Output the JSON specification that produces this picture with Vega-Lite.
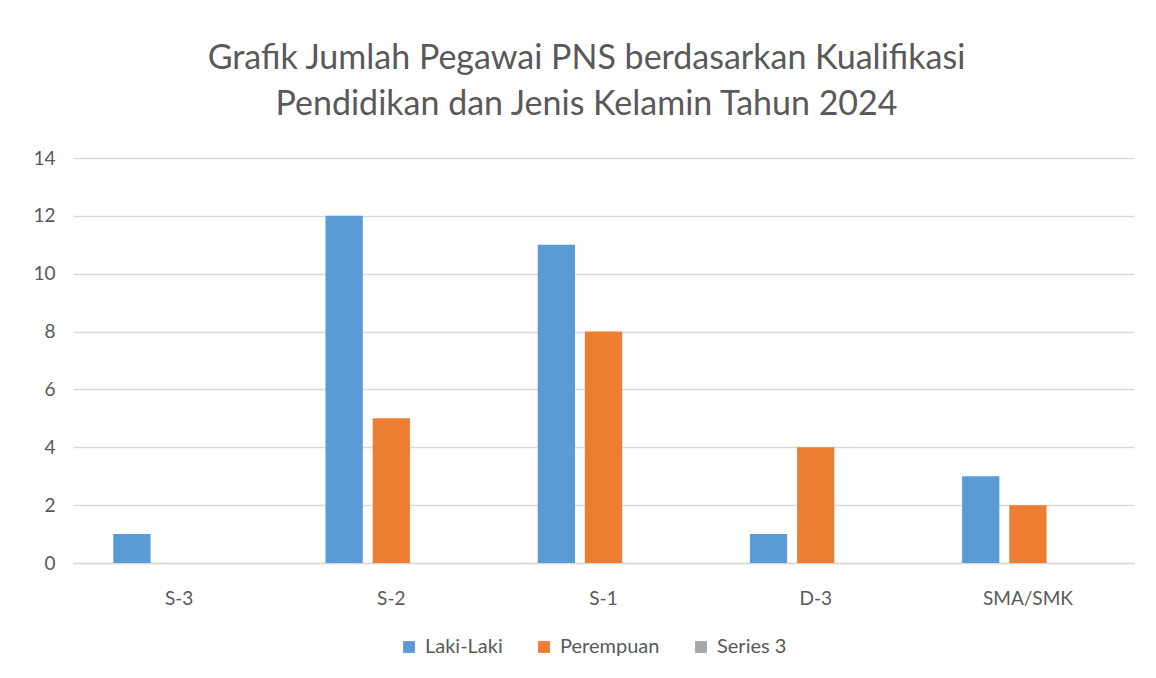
{
  "$schema": "https://vega.github.io/schema/vega-lite/v6.json",
  "autosize": "none",
  "width": 1061,
  "height": 405,
  "padding": {"left": 73, "top": 158, "right": 22, "bottom": 115},
  "background": "white",
  "title": {
    "text": ["Grafik Jumlah Pegawai PNS berdasarkan Kualifikasi", "Pendidikan dan Jenis Kelamin Tahun 2024"],
    "font": "Lato",
    "fontSize": 34,
    "fontWeight": "normal",
    "color": "#595959",
    "lineHeight": 46,
    "anchor": "middle",
    "dx": -17,
    "offset": 27
  },
  "data": {
    "values": [
      {"kategori": "S-3", "jenis": "Laki-Laki", "jumlah": 1},
      {"kategori": "S-2", "jenis": "Laki-Laki", "jumlah": 12},
      {"kategori": "S-2", "jenis": "Perempuan", "jumlah": 5},
      {"kategori": "S-1", "jenis": "Laki-Laki", "jumlah": 11},
      {"kategori": "S-1", "jenis": "Perempuan", "jumlah": 8},
      {"kategori": "D-3", "jenis": "Laki-Laki", "jumlah": 1},
      {"kategori": "D-3", "jenis": "Perempuan", "jumlah": 4},
      {"kategori": "SMA/SMK", "jenis": "Laki-Laki", "jumlah": 3},
      {"kategori": "SMA/SMK", "jenis": "Perempuan", "jumlah": 2}
    ]
  },
  "mark": {"type": "bar"},
  "encoding": {
    "x": {
      "field": "kategori",
      "type": "nominal",
      "sort": ["S-3", "S-2", "S-1", "D-3", "SMA/SMK"],
      "scale": {"paddingInner": 0.38, "paddingOuter": 0.19},
      "axis": {
        "title": null,
        "labelAngle": 0,
        "labelFont": "Lato",
        "labelFontSize": 19,
        "labelColor": "#595959",
        "labelPadding": 26,
        "ticks": false,
        "domainColor": "#D9D9D9",
        "domainWidth": 1.5
      }
    },
    "xOffset": {
      "field": "jenis",
      "type": "nominal",
      "scale": {"domain": ["Laki-Laki", "Perempuan", "Series 3"], "paddingInner": 0.21, "paddingOuter": 0}
    },
    "y": {
      "field": "jumlah",
      "type": "quantitative",
      "scale": {"domain": [0, 14]},
      "axis": {
        "title": null,
        "values": [0, 2, 4, 6, 8, 10, 12, 14],
        "labelFont": "Lato",
        "labelFontSize": 19,
        "labelColor": "#595959",
        "labelPadding": 18,
        "ticks": false,
        "domain": false,
        "gridColor": "#D9D9D9",
        "gridWidth": 1.5
      }
    },
    "color": {
      "field": "jenis",
      "type": "nominal",
      "scale": {
        "domain": ["Laki-Laki", "Perempuan", "Series 3"],
        "range": ["#5B9BD5", "#ED7D31", "#A5A5A5"]
      },
      "legend": {
        "title": null,
        "orient": "none",
        "direction": "horizontal",
        "legendX": 326,
        "legendY": 479,
        "symbolType": "square",
        "symbolSize": 140,
        "symbolStrokeWidth": 0,
        "labelFont": "Lato",
        "labelFontSize": 20,
        "labelColor": "#595959",
        "columnPadding": 31,
        "labelOffset": 6
      }
    }
  },
  "config": {"view": {"stroke": null}}
}
